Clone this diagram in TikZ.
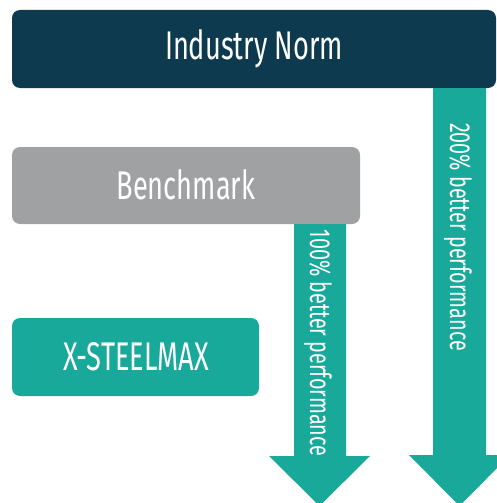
\documentclass[tikz,border=0pt]{standalone}
\usepackage{fontspec}
\setmainfont{Fira Sans}[FakeStretch=0.68]
\definecolor{navy}{HTML}{0E3A4F}
\definecolor{steelgray}{HTML}{A0A1A3}
\definecolor{teal}{HTML}{18A99A}
\begin{document}
\begin{tikzpicture}[x=1pt,y=-1pt,
  bar/.style={fill=#1, rounded corners=8pt},
  bartext/.style={text=white, font=\fontsize{40}{44}\selectfont, inner sep=0pt},
  arrowtext/.style={text=white, font=\fontsize{29}{33}\selectfont, rotate=-90, inner sep=0pt},
  bigarrow/.style={fill=teal}]
\useasboundingbox (0,0) rectangle (497,503);
\clip (0,0) rectangle (497,503);

% level bars
\fill[bar=navy] (12,10) rectangle (496,88);
\node[bartext] (norm) at (254,49) {Industry Norm};

\fill[bar=steelgray] (12,147) rectangle (360,224);
\node[bartext] (bench) at (186,185) {Benchmark};

\fill[bar=teal] (12,318) rectangle (259,396);
\node[bartext] (xsm) at (136,357) {X-STEELMAX};

% improvement arrows
\fill[bigarrow] (294,224) -- (346,224) -- (346,456) -- (370,456)
  -- (319.5,506) -- (269,456) -- (294,456) -- cycle;
\node[arrowtext] (gain1) at (318,343) {100\% better performance};

\fill[bigarrow] (433,88) -- (486,88) -- (486,455) -- (510,455)
  -- (459.5,506) -- (409,455) -- (433,455) -- cycle;
\node[arrowtext] (gain2) at (458,237) {200\% better performance};
\end{tikzpicture}
\end{document}
